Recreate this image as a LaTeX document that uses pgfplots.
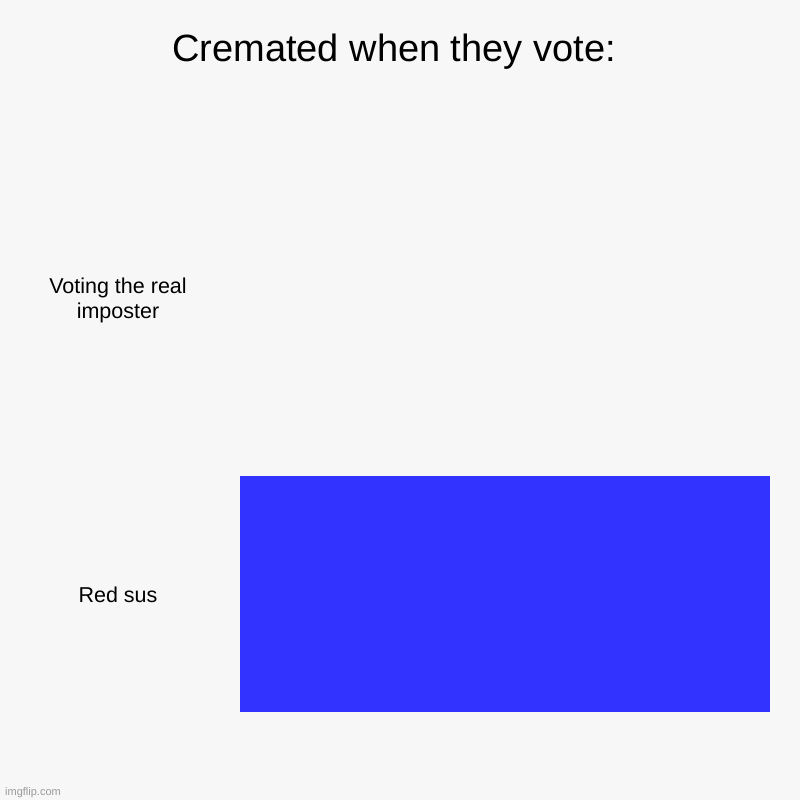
\documentclass[border=0pt]{standalone}
\usepackage{pgfplots}
\pgfplotsset{compat=1.18}
\usepackage{fontspec}
\setmainfont{Liberation Sans}
\definecolor{bg}{HTML}{F7F7F7}
\definecolor{barblue}{HTML}{3333FF}
\begin{document}
\begin{tikzpicture}[x=1pt,y=1pt]
\fill[bg] (0,0) rectangle (800,800);
\begin{axis}[
  at={(240pt,58.5pt)}, anchor=south west,
  scale only axis, width=530pt, height=590pt,
  xbar, bar width=236pt,
  xmin=0, xmax=1, ymin=-0.5, ymax=1.5,
  axis line style={draw=none},
  xtick=\empty,
  ytick={0,1},
  yticklabels={Red sus, {Voting the real\\imposter}},
  yticklabel style={anchor=center, xshift=-122pt, yshift=-1pt, align=center,
    font=\fontsize{21.5}{25}\selectfont},
  major tick length=0pt,
  clip=false,
]
\addplot[fill=barblue, draw=none, x filter/.expression={x<=0 ? nan : x}, unbounded coords=discard] coordinates {(1,0) (0,1)};
\end{axis}
\node[anchor=base, font=\fontsize{38}{42}\selectfont] at (394,738) {Cremated when they vote:};
\node[anchor=base west, inner sep=0pt, text=gray!80, font=\fontsize{11}{12}\selectfont] at (5,5) {imgflip.com};
\pgfresetboundingbox
\path (0,0) rectangle (800,800);
\end{tikzpicture}
\end{document}
